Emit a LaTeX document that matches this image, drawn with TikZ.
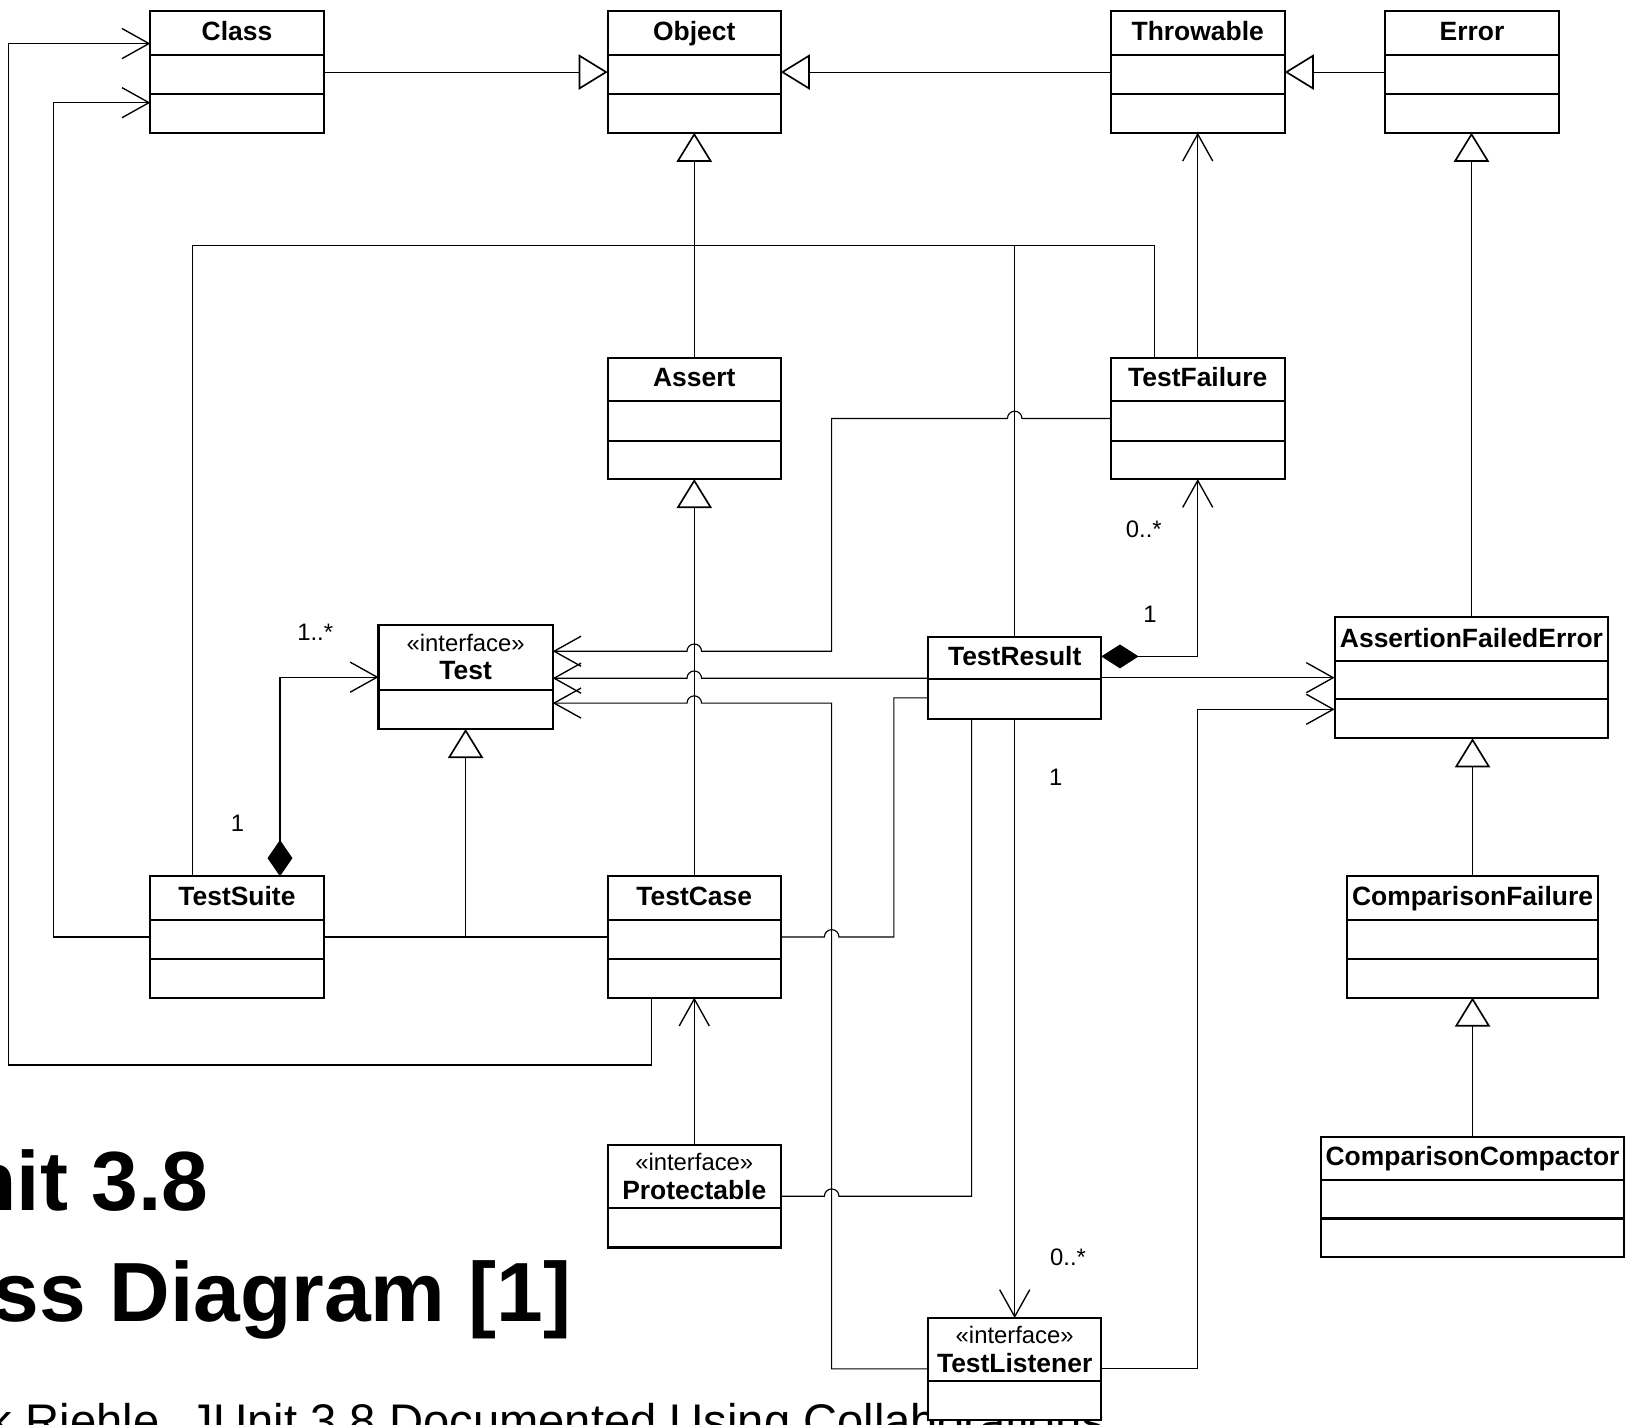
\documentclass[tikz,border=0pt]{standalone}
\usepackage{fontspec}
\setmainfont{Liberation Sans}
\usetikzlibrary{arrows.meta,calc}

\tikzset{
  clsbox/.style={draw, line width=2pt, fill=white, inner sep=0pt, outer sep=0pt, anchor=north west},
  divline/.style={line width=2pt},
  conn/.style={line width=1.1pt},
  gen/.style={conn, -{Triangle[fill=white, length=28pt, width=34pt, line width=1.6pt]}},
  assoc/.style={conn, -{Straight Barb[length=26pt, width=29pt, line width=1.3pt]}},
  comp/.style={conn, {Diamond[length=36pt, width=23pt]}-{Straight Barb[length=26pt, width=29pt, line width=1.3pt]}},
  compplain/.style={conn, {Diamond[length=35pt, width=24pt]}-{Straight Barb[length=26pt, width=29pt, line width=1.3pt]}},
  namefont/.style={font=\fontsize{25.5}{30}\selectfont\bfseries, inner sep=0pt},
  stereo/.style={font=\fontsize{23}{27}\selectfont, inner sep=0pt},
  mult/.style={font=\fontsize{23}{27}\selectfont, inner sep=0pt},
  titlefont/.style={font=\fontsize{81}{95}\selectfont\bfseries, inner sep=0pt},
  subfont/.style={font=\fontsize{45.5}{54}\selectfont, inner sep=0pt},
}

\newcommand{\umlbox}[5]{\node[clsbox, minimum width={(#4-#2)*1pt}, minimum height={(#5-#3)*1pt}] (#1) at (#2,#3) {};}
\newcommand{\umldiv}[2]{\draw[divline] ($(#1.north west)+(0,#2)$) -- ($(#1.north east)+(0,#2)$);}
\newcommand{\umlname}[3]{\node[namefont, anchor=base] (#1-name) at ($(#1.north)+(0,#2)$) {#3};}
\newcommand{\umlstereo}[2]{\node[stereo, anchor=base] (#1-stereo) at ($(#1.north)+(0,#2)$) {«interface»};}
\newcommand{\jumpL}[1]{-- ($#1+(7pt,0pt)$) arc[start angle=0,end angle=180,radius=7pt]}
\newcommand{\jumpR}[1]{-- ($#1+(-7pt,0pt)$) arc[start angle=180,end angle=0,radius=7pt]}

\begin{document}
\begin{tikzpicture}[x=1pt,y=-1pt]
\useasboundingbox (0,0) rectangle (1568,1374);
\fill[white] (0,0) rectangle (1568,1374);
\clip (0,0) rectangle (1568,1374);

% title texts (partly cut off by the page edge, as in the reference)
\node[titlefont, anchor=base east] (title1) at (201,1167) {JUnit 3.8};
\node[titlefont, anchor=base east] (title2) at (551.5,1274) {Class Diagram [1]};
\node[subfont, anchor=base west] (credit) at (-69,1386) {Dirk Riehle. JUnit 3.8 Documented Using Collaborations};

% classes
\umlbox{class}{145}{11}{312}{128}\umldiv{class}{42}\umldiv{class}{80}\umlname{class}{28}{Class}
\umlbox{object}{586}{11}{753}{128}\umldiv{object}{42}\umldiv{object}{80}\umlname{object}{28}{Object}
\umlbox{throwable}{1071}{11}{1239}{128}\umldiv{throwable}{42}\umldiv{throwable}{80}\umlname{throwable}{28}{Throwable}
\umlbox{error}{1336}{11}{1503}{128}\umldiv{error}{42}\umldiv{error}{80}\umlname{error}{28}{Error}
\umlbox{assert}{586}{345}{753}{462}\umldiv{assert}{42}\umldiv{assert}{80}\umlname{assert}{28}{Assert}
\umlbox{testfailure}{1071}{345}{1239}{462}\umldiv{testfailure}{42}\umldiv{testfailure}{80}\umlname{testfailure}{28}{TestFailure}
\umlbox{test}{365}{603}{533}{703}\umldiv{test}{62}\umlstereo{test}{25}\umlname{test}{52.5}{Test}
\umlbox{testresult}{895}{614}{1062}{693}\umldiv{testresult}{41}\umlname{testresult}{28}{TestResult}
\umlbox{afe}{1287}{595}{1551}{712}\umldiv{afe}{42}\umldiv{afe}{79}\umlname{afe}{29}{AssertionFailedError}
\umlbox{testsuite}{145}{845}{312}{962}\umldiv{testsuite}{42}\umldiv{testsuite}{80}\umlname{testsuite}{28}{TestSuite}
\umlbox{testcase}{586}{845}{753}{962}\umldiv{testcase}{42}\umldiv{testcase}{80}\umlname{testcase}{28}{TestCase}
\umlbox{cfail}{1299}{845}{1541}{962}\umldiv{cfail}{42}\umldiv{cfail}{80}\umlname{cfail}{28}{ComparisonFailure}
\umlbox{protectable}{586}{1104}{753}{1203}\umldiv{protectable}{61}\umlstereo{protectable}{25}\umlname{protectable}{52.5}{Protectable}
\umlbox{ccomp}{1274}{1096}{1566}{1212}\umldiv{ccomp}{42}\umldiv{ccomp}{79}\umlname{ccomp}{28}{ComparisonCompactor}
\umlbox{testlistener}{895}{1271}{1062}{1369}\umldiv{testlistener}{61}\umlstereo{testlistener}{25}\umlname{testlistener}{52.5}{TestListener}

% helper coordinates
\coordinate (busx) at (802,0);
\coordinate (bendB) at (862,0);
\coordinate (bendC) at (937,0);
\coordinate (tA) at ($(test.east)+(0,-25)$);
\coordinate (tB) at ($(test.east)+(0,1)$);
\coordinate (tC) at ($(test.east)+(0,25)$);
\coordinate (trL2) at ($(testresult.west)+(0,19.5)$);
\coordinate (trR1) at ($(testresult.east)+(0,-20.5)$);
\coordinate (afeL2) at ($(afe.west)+(0,30.5)$);
\coordinate (tlW) at ($(testlistener.north west)+(0,49)$);
\coordinate (tlE) at ($(testlistener.north east)+(0,49)$);

% generalizations
\draw[gen] (class.east) -- (object.west);
\draw[gen] (throwable.west) -- (object.east);
\draw[gen] (error.west) -- (throwable.east);
\draw[gen] (assert.north) -- (object.south);
\draw[gen] (testcase.north) -- (assert.south);
\draw[gen] (afe.north) -- (afe.north |- error.south);
\draw[gen] (cfail.north) -- (cfail.north |- afe.south);
\draw[gen] (ccomp.north) -- (ccomp.north |- cfail.south);
\draw[conn] (testsuite.east) -- (testcase.west);
\draw[gen] (test.south |- testsuite.east) -- (test.south);

% associations
\draw[assoc] (testfailure.north) -- (throwable.south);
\draw[compplain] ($(testsuite.north)+(41.5,0)$) |- (test.west);
\draw[assoc] (testsuite.west) -- ++(-93,0) |- ($(class.west)+(0,29.5)$);
\draw[assoc] ($(testcase.south)+(-41.5,0)$) -- ++(0,65) -- ++(-620,0) |- ($(class.west)+(0,-27.5)$);
\draw[conn] ($(testsuite.north)+(-42.5,0)$) -- ++(0,-608) -| ($(testfailure.north)+(-42,0)$);
\draw[conn] (testresult.north) -- ++(0,-377);

\draw[assoc] (testfailure.west) \jumpL{(testresult.north |- testfailure.west)} -- (busx |- testfailure.west) -- (busx |- tA) \jumpL{(testcase.north |- tA)} -- (tA);
\draw[assoc] (testresult.west |- tB) \jumpL{(testcase.north |- tB)} -- (tB);
\draw[assoc] (tlW) -- (busx |- tlW) -- (busx |- tC) \jumpL{(testcase.north |- tC)} -- (tC);
\draw[conn] (testcase.east) \jumpR{(busx |- testcase.east)} -- (bendB |- testcase.east) -- (bendB |- trL2) -- (trL2);
\draw[conn] (protectable.east) \jumpR{(busx |- protectable.east)} -- (bendC |- protectable.east) -- (bendC |- testresult.south);
\draw[assoc] (testresult.south) -- (testlistener.north);
\draw[comp] (trR1) -| (testfailure.south);
\draw[assoc] (testresult.east) -- (afe.west);
\draw[assoc] (tlE) -- (testfailure.south |- tlE) -- (testfailure.south |- afeL2) -- (afeL2);
\draw[assoc] (protectable.north) -- (testcase.south);

% multiplicities
\node[mult] (m1) at (304,610) {1..*};
\node[mult] (m2) at (229,794) {1};
\node[mult] (m3) at (1103,510) {0..*};
\node[mult] (m4) at (1109,592) {1};
\node[mult] (m5) at (1018,750) {1};
\node[mult] (m6) at (1030,1212) {0..*};
\end{tikzpicture}
\end{document}
